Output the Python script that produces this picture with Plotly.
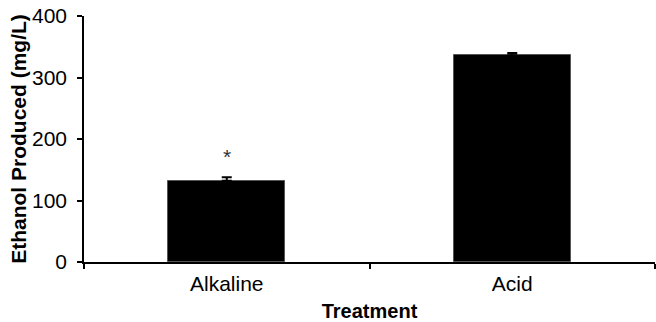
import plotly.graph_objects as go

categories = ["Alkaline", "Acid"]
ethanol = [132, 336]
err_up = [6, 4]
y_ticks = [0, 100, 200, 300, 400]
sig_label = "*"
sig_y = 171

FONT = "Liberation Sans, Arial, sans-serif"

fig = go.Figure()
fig.add_trace(go.Bar(
    x=categories, y=ethanol,
    marker=dict(color="black", line=dict(color="#555", width=1)),
    width=0.41,
    error_y=dict(type="data", symmetric=False, array=err_up,
                 arrayminus=[0, 0], color="black", thickness=2, width=5),
))
fig.add_annotation(x=categories[0], y=sig_y, text=sig_label, showarrow=False,
                   font=dict(family=FONT, size=21, color="#333"))

fig.update_layout(
    width=656, height=322,
    margin=dict(l=84, r=1, t=16, b=60),
    plot_bgcolor="white", paper_bgcolor="white",
    showlegend=False,
    font=dict(family=FONT, color="black"),
    bargap=0,
)
fig.update_xaxes(
    range=[-0.5, 1.5], tickson="boundaries", ticks="outside", ticklen=5,
    tickwidth=1.5, tickcolor="black",
    showline=True, linecolor="black", linewidth=1.5, showgrid=False,
    tickfont=dict(family=FONT, size=21, color="black"),
    ticklabelstandoff=2,
    title=dict(text="<b>Treatment</b>", font=dict(family=FONT, size=20, color="black"), standoff=12),
)
fig.update_yaxes(
    range=[0, 400], tickvals=y_ticks, ticks="outside", ticklen=5,
    tickwidth=1.5, tickcolor="black",
    showline=True, linecolor="black", linewidth=1.5, showgrid=False, zeroline=False,
    tickfont=dict(family=FONT, size=21, color="black"),
    ticklabelstandoff=6,
    title=dict(text="<b>Ethanol Produced (mg/L)</b>", font=dict(family=FONT, size=21, color="black"), standoff=0),
)

fig.write_html("out.html")
